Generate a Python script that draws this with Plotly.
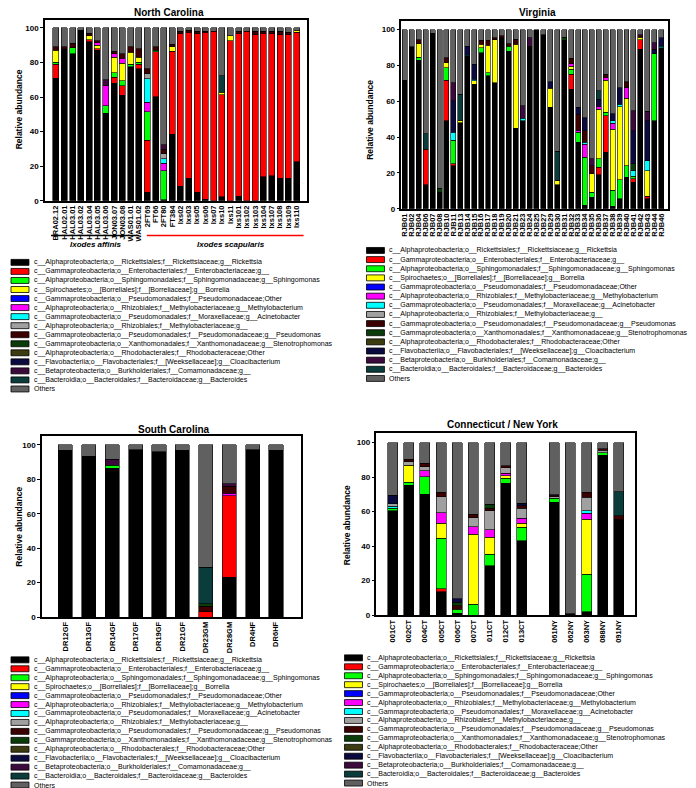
import plotly.graph_objects as go

W, H = 696, 788
FONT = "Liberation Sans, Arial, sans-serif"

LEGEND_LABELS = [
    "c__Alphaproteobacteria;o__Rickettsiales;f__Rickettsiaceae;g__Rickettsia",
    "c__Gammaproteobacteria;o__Enterobacteriales;f__Enterobacteriaceae;g__",
    "c__Alphaproteobacteria;o__Sphingomonadales;f__Sphingomonadaceae;g__Sphingomonas",
    "c__Spirochaetes;o__[Borreliales];f__[Borreliaceae];g__Borrelia",
    "c__Gammaproteobacteria;o__Pseudomonadales;f__Pseudomonadaceae;Other",
    "c__Alphaproteobacteria;o__Rhizobiales;f__Methylobacteriaceae;g__Methylobacterium",
    "c__Gammaproteobacteria;o__Pseudomonadales;f__Moraxellaceae;g__Acinetobacter",
    "c__Alphaproteobacteria;o__Rhizobiales;f__Methylobacteriaceae;g__",
    "c__Gammaproteobacteria;o__Pseudomonadales;f__Pseudomonadaceae;g__Pseudomonas",
    "c__Gammaproteobacteria;o__Xanthomonadales;f__Xanthomonadaceae;g__Stenotrophomonas",
    "c__Alphaproteobacteria;o__Rhodobacterales;f__Rhodobacteraceae;Other",
    "c__Flavobacteriia;o__Flavobacteriales;f__[Weeksellaceae];g__Cloacibacterium",
    "c__Betaproteobacteria;o__Burkholderiales;f__Comamonadaceae;g__",
    "c__Bacteroidia;o__Bacteroidales;f__Bacteroidaceae;g__Bacteroides",
    "Others",
]
COLORS = ["#000000", "#ff0000", "#00ff00", "#ffff00", "#0000ff", "#ff00ff", "#00ffff",
          "#a0a0a0", "#3c0000", "#0a3c0a", "#3c3c10", "#0a0a40", "#3c0a3c", "#0a3c3c", "#606060"]

# ---------------- North Carolina ----------------
NC_SAMPLES = ["BRA02.12", "HAL02.01", "HAL03.01", "HAL03.02", "HAL03.04", "HAL03.05", "HAL03.06",
              "JON03.07", "JON03.08", "WAS01.01", "WAS01.02", "2FT69", "FT66", "2FT80", "FT384",
              "Ixs02", "Ixs03", "Ixs05", "Ixs06", "Ixs07", "Ixs10", "Ixs11", "Ixs101", "Ixs102",
              "Ixs103", "Ixs104", "Ixs107", "Ixs108", "Ixs109", "Ixs110"]
NC_RICK = [71, 87.5, 85, 98.5, 92, 87, 50.5, 68, 61, 77.5, 76.5, 5, 60.3, 0.5, 38.5,
           8.5, 13, 5, 1, 0, 2.3, 0, 2.5, 0, 0, 14, 14.5, 13, 13, 22.5]
NC_ENTERO = [8, 0.8, 0, 0, 1, 1, 0, 3.5, 5.5, 0, 2.5, 30, 26, 0, 48,
             88, 84.5, 91.5, 96.5, 98, 59, 92.5, 94, 98, 96, 83, 82, 83, 83, 75]
NC_SPHINGO = [1, 0, 3.5, 0, 0, 0, 4.5, 2.5, 3, 1.5, 1, 16.5, 0.7, 16.8, 0,
              0, 0, 0, 0, 0, 0, 0, 0, 0, 0, 0, 0, 0, 0, 0]
NC_BORRELIA = [7, 0, 0, 0, 2.5, 2, 0, 9, 10, 7, 3, 0, 0, 0, 2.5,
               0, 0, 0, 0, 0, 1.4, 3, 0, 0, 0, 0, 0, 0, 0, 0.8]
NC_PSEUDO_OTHER = [0] * 30
NC_METHYLOBACTERIUM = [0, 0, 0, 0, 0, 1.5, 11.5, 2, 3, 0, 0, 5.5, 0, 4.5, 0,
                       0, 0, 0, 0, 0, 0, 0, 0, 0, 0, 0, 0, 0, 0, 0]
NC_ACINETO = [0, 0, 0, 0, 0, 0, 0, 0, 0, 0, 0, 13.5, 0, 2.5, 0,
              0, 0, 0, 0, 0, 0, 0, 0, 0, 0, 0, 0, 0, 0, 0]
NC_METHYLO_G = [0, 0, 0, 0, 0, 0, 0, 0, 0, 0, 0, 3, 0, 3, 0,
                0, 0, 0, 0, 0, 0, 0, 0, 0, 0, 0, 0, 0, 0, 0]
NC_PSEUDOMONAS = [2, 0.7, 2.5, 0, 1.5, 1, 0, 1.5, 2.5, 3, 5, 3, 2, 2.5, 1.5,
                  1.5, 1, 1.5, 0.5, 0, 0, 0, 1.5, 0, 2, 1, 1.5, 2, 1.5, 0]
NC_STENO = [0] * 30
NC_RHODO = [0] * 30
NC_CLOACI = [0] * 30
NC_COMAMON = [0, 0, 0, 0, 0, 0, 3.5, 0, 0, 0, 0, 0, 0, 2.5, 0,
              0, 0, 0, 0, 0, 0, 0, 0, 0, 0, 0, 0, 0, 0, 0]
NC_BACTEROIDES = [0, 0, 0, 0, 0, 0, 0, 0, 0, 0, 0, 0, 0, 0, 0,
                  0, 0, 0, 0, 0, 9.5, 0, 0, 0, 0, 0, 0, 0, 0, 0]
NC_OTHERS = [11, 11, 9, 1.5, 3, 7.5, 30, 13.5, 15, 11, 12, 23.5, 11, 67.7, 9.5,
             2, 1.5, 2, 2, 2, 27.8, 4.5, 2, 2, 2, 2, 2, 2, 2.5, 1.7]

# ---------------- Virginia ----------------
VA_SAMPLES = ["RJB01", "RJB02", "RJB04", "RJB06", "RJB07", "RJB08", "RJB10", "RJB11", "RJB13",
              "RJB14", "RJB15", "RJB16", "RJB17", "RJB18", "RJB19", "RJB20", "RJB21", "RJB23",
              "RJB24", "RJB25", "RJB27", "RJB29", "RJB30", "RJB31", "RJB32", "RJB33", "RJB34",
              "RJB35", "RJB36", "RJB37", "RJB38", "RJB39", "RJB40", "RJB41", "RJB42", "RJB43",
              "RJB44", "RJB46"]
VA_RICK = [71.7, 90.4, 82.8, 13.3, 98, 9.3, 49, 24, 48.1, 85.2, 69.4, 87, 74.3, 70.4, 95.4,
           88, 44.8, 49, 90.7, 100, 97.2, 56.5, 13.3, 93.9, 66.7, 37, 1.9, 6.5, 18.9, 31.5,
           1.3, 5.6, 17.6, 14.8, 88.9, 5.6, 49, 89.8]
VA_ENTERO = [0, 0, 0, 20, 0, 0, 22.7, 1, 0, 0, 0, 0, 0, 0, 0,
             0, 0, 0, 0, 0, 0, 0, 0, 0, 8.3, 0, 0, 0, 4.2, 20.4,
             0, 0, 0, 1.9, 5.5, 1.3, 0, 0]
VA_SPHINGO = [0, 0, 1.8, 0, 0, 0, 7, 13.3, 0, 0, 0, 2.8, 1.6, 0, 0,
              2.7, 0, 0, 0, 0, 0, 0, 0, 0, 2.8, 5.6, 26.8, 2.8, 4.7, 1.8,
              8.9, 10.5, 6.5, 1.5, 0, 0, 37.5, 0]
VA_BORRELIA = [0, 0, 7.4, 0, 0, 0, 2.8, 0, 0.9, 0, 1.9, 1.9, 15.4, 24, 0,
               0, 46.9, 0, 0, 0, 0, 10.7, 2.4, 0, 1.8, 0, 0, 10.1, 27.8, 18,
               34.2, 40.8, 37.6, 0, 1.3, 14.4, 0, 0]
VA_PSEUDO_OTHER = [0] * 38
VA_METHYLOBACTERIUM = [0, 0, 0, 0, 0, 0, 0, 0, 0, 0, 0, 0, 0, 0, 0,
                       0, 0, 0, 0, 0, 0, 0, 0, 0, 1.3, 1.3, 7.4, 0, 1.6, 1.5,
                       3.2, 0, 5.9, 0, 0, 0, 0, 0]
VA_ACINETO = [0, 0, 0, 0, 0, 0, 0, 4.3, 0, 0.4, 0.9, 0, 0, 0, 0,
              0, 0, 1.6, 0, 0, 0, 0, 0, 0, 0, 0, 0.9, 0, 0, 0,
              1.4, 1.4, 0, 3.1, 0, 5.6, 0, 0.9]
VA_METHYLO_G = [0] * 38
VA_PSEUDOMONAS = [0, 0, 2.4, 0, 0, 0, 2.8, 0, 0, 0, 0, 2.2, 2.6, 1, 1.1,
                  1.3, 2.8, 0, 0, 0, 0, 0, 0, 0, 3, 8.9, 6.5, 4.5, 0, 1.8,
                  0, 0, 3.3, 0, 1.5, 0, 0, 0]
VA_STENO = [0, 0, 0, 0, 0, 2.2, 0, 0, 0, 0, 0, 0, 0, 0, 0,
            0, 0, 0, 0, 0, 0, 0, 0, 1.8, 0, 0, 0, 0, 0, 0,
            0, 0, 0, 3.7, 0, 0, 0, 0]
VA_RHODO = [0] * 38
VA_CLOACI = [0, 0, 0, 0, 0, 0, 0, 17.6, 0, 5.1, 8.4, 0, 0, 0, 0,
             0, 0, 0, 0, 0, 0, 3.7, 0, 0, 0, 3.7, 7.4, 0, 4, 0,
             4, 9.3, 0, 18.5, 0, 22.1, 2.4, 4.7]
VA_COMAMON = [0, 0, 0, 0, 0, 0, 0, 10.2, 0, 0, 0, 0, 0, 0, 0,
              0, 0, 6.8, 4.7, 0, 0, 0, 0, 0, 0, 0, 0, 4, 0, 0,
              0, 0, 0, 11.1, 0, 5.3, 3.7, 0]
VA_BACTEROIDES = [0, 0, 0, 8.4, 0, 0, 0, 0, 14.9, 0, 0, 0, 0, 0, 0,
                  0, 0, 0, 0, 0, 0, 0, 16.3, 0, 0, 0, 0, 0, 4.5, 0,
                  0, 0, 0, 0, 0, 0, 0, 0]
VA_OTHERS = [28.3, 9.6, 5.6, 58.3, 2, 88.5, 15.7, 29.6, 36.1, 9.3, 19.4, 6.1, 6.1, 4.6, 3.5,
             8, 5.5, 42.6, 4.6, 0, 2.8, 29.1, 68, 4.3, 16.1, 43.5, 49.1, 72.1, 34.3, 25,
             47, 32.4, 29.1, 45.4, 2.8, 45.7, 7.4, 4.6]

# ---------------- South Carolina ----------------
SC_SAMPLES = ["DR12GF", "DR13GF", "DR14GF", "DR17GF", "DR19GF", "DR21GF", "DR23GM", "DR28GM",
              "DR4HF", "DR6HF"]
SC_RICK = [96.9, 93.4, 86.3, 97.3, 96, 96.5, 0, 23.1, 97.3, 96.9]
SC_ENTERO = [0, 0, 0, 0, 0, 0, 3.1, 47.4, 0, 0]
SC_SPHINGO = [0, 0, 1.9, 0, 0, 0, 0, 0, 0, 0]
SC_BORRELIA = [0] * 10
SC_PSEUDO_OTHER = [0] * 10
SC_METHYLOBACTERIUM = [0, 0, 0, 0, 0, 0, 0, 1.4, 0, 0]
SC_ACINETO = [0] * 10
SC_METHYLO_G = [0] * 10
SC_PSEUDOMONAS = [0, 0, 0, 0, 0, 0, 3.3, 4, 0, 0]
SC_STENO = [0, 0, 0, 0, 0, 0, 1.3, 0, 0, 0]
SC_RHODO = [0] * 10
SC_CLOACI = [0] * 10
SC_COMAMON = [0, 0, 3.5, 0, 0, 0.5, 0, 1.6, 0, 0]
SC_BACTEROIDES = [0, 0, 0, 0, 0, 0, 21.3, 0, 0, 0]
SC_OTHERS = [3.1, 6.6, 8.3, 2.7, 4, 3, 71, 22.5, 2.7, 3.1]

# ---------------- Connecticut / New York ----------------
CT_SAMPLES = ["001CT", "002CT", "004CT", "005CT", "006CT", "007CT", "011CT", "012CT", "013CT",
              "061NY", "062NY", "063NY", "088NY", "091NY"]
CT_RICK = [60.5, 75.4, 70, 13.5, 1, 0, 28.5, 76.3, 43.1, 65.4, 0.8, 1.9, 92.7, 55.2]
CT_ENTERO = [0, 0, 0, 1.9, 0, 0, 0, 0, 0, 0, 0, 0, 0, 0.5]
CT_SPHINGO = [1.5, 1.5, 10.2, 29.2, 2.5, 6.2, 6.9, 2.9, 7.7, 2.3, 0, 21.9, 1.5, 0]
CT_BORRELIA = [0, 10, 0, 8.7, 0, 40.7, 9.6, 1.6, 2.5, 0, 0, 31.8, 0, 0]
CT_PSEUDO_OTHER = [0] * 14
CT_METHYLOBACTERIUM = [0, 0, 3.5, 6.1, 0, 4.4, 4.4, 1.3, 2.9, 0, 0, 3.4, 0, 0]
CT_ACINETO = [1, 0, 0, 0, 0, 0, 0, 0, 0, 0, 0, 1.4, 0, 0]
CT_METHYLO_G = [1.5, 1.9, 2.3, 9.3, 0, 5.2, 11, 3.3, 5.7, 0.8, 0, 7.9, 1.3, 0]
CT_PSEUDOMONAS = [0, 1.6, 1.9, 2.5, 2, 2, 1.5, 1.1, 1.4, 0.7, 0, 2.9, 1, 2]
CT_STENO = [0, 0, 0, 0, 2, 0, 2.3, 0, 0, 0, 0, 0, 0, 0]
CT_RHODO = [0] * 14
CT_CLOACI = [5, 0, 0, 0, 2, 0, 0, 0, 1.5, 0, 0, 0, 0, 0]
CT_COMAMON = [0, 0, 0, 0, 0, 0, 0, 0, 0, 0.5, 0, 0, 0, 0]
CT_BACTEROIDES = [0, 0, 0, 0, 0, 0, 0, 0, 0, 0, 0, 0, 0, 13.8]
CT_OTHERS = [30.5, 9.6, 12.1, 28.8, 90.5, 41.5, 35.8, 13.5, 35.2, 30.3, 99.2, 28.8, 3.5, 28.5]

NC_SERIES = [NC_RICK, NC_ENTERO, NC_SPHINGO, NC_BORRELIA, NC_PSEUDO_OTHER, NC_METHYLOBACTERIUM,
             NC_ACINETO, NC_METHYLO_G, NC_PSEUDOMONAS, NC_STENO, NC_RHODO, NC_CLOACI, NC_COMAMON,
             NC_BACTEROIDES, NC_OTHERS]
VA_SERIES = [VA_RICK, VA_ENTERO, VA_SPHINGO, VA_BORRELIA, VA_PSEUDO_OTHER, VA_METHYLOBACTERIUM,
             VA_ACINETO, VA_METHYLO_G, VA_PSEUDOMONAS, VA_STENO, VA_RHODO, VA_CLOACI, VA_COMAMON,
             VA_BACTEROIDES, VA_OTHERS]
SC_SERIES = [SC_RICK, SC_ENTERO, SC_SPHINGO, SC_BORRELIA, SC_PSEUDO_OTHER, SC_METHYLOBACTERIUM,
             SC_ACINETO, SC_METHYLO_G, SC_PSEUDOMONAS, SC_STENO, SC_RHODO, SC_CLOACI, SC_COMAMON,
             SC_BACTEROIDES, SC_OTHERS]
CT_SERIES = [CT_RICK, CT_ENTERO, CT_SPHINGO, CT_BORRELIA, CT_PSEUDO_OTHER, CT_METHYLOBACTERIUM,
             CT_ACINETO, CT_METHYLO_G, CT_PSEUDOMONAS, CT_STENO, CT_RHODO, CT_CLOACI, CT_COMAMON,
             CT_BACTEROIDES, CT_OTHERS]


def positions(samples, gap_after=None):
    pos, off = [], 0
    for i, s in enumerate(samples):
        if gap_after is not None and i > 0 and samples[i - 1].endswith(gap_after) and not s.endswith(gap_after):
            off += 1
        pos.append(i + off)
    return pos


PANELS = [
    dict(name="North Carolina", samples=NC_SAMPLES, series=NC_SERIES, pos=positions(NC_SAMPLES),
         ax="", box=(36, 298, 12, 194), xr=[-1.33, 30.2], ymax=104.6, bw=0.72,
         title_xy=(160, 5), ytitle_xy=(10, 102), leg=(2, 256, 9.1)),
    dict(name="Virginia", samples=VA_SAMPLES, series=VA_SERIES, pos=positions(VA_SAMPLES),
         ax="2", box=(393, 660, 13, 202), xr=[-0.5, 38], ymax=104.8, bw=0.72,
         title_xy=(529, 5), ytitle_xy=(362, 112), leg=(358, 244, 9.2)),
    dict(name="South Carolina", samples=SC_SAMPLES, series=SC_SERIES, pos=positions(SC_SAMPLES),
         ax="3", box=(33, 292, 431, 613), xr=[-1, 10.05], ymax=105, bw=0.6,
         title_xy=(165, 424), ytitle_xy=(10, 522), leg=(2, 656, 9.0)),
    dict(name="Connecticut / New York", samples=CT_SAMPLES, series=CT_SERIES,
         pos=positions(CT_SAMPLES, gap_after="CT"),
         ax="4", box=(368, 627, 428, 611), xr=[-1, 15], ymax=105.4, bw=0.62,
         title_xy=(494, 419), ytitle_xy=(338, 521), leg=(336, 654, 9.0)),
]

fig = go.Figure()
layout = dict(width=W, height=H, margin=dict(l=0, r=0, t=0, b=0), autosize=False,
              paper_bgcolor="white", plot_bgcolor="white", barmode="stack", showlegend=False,
              font=dict(family=FONT, color="black"))
shapes, annotations = [], []


def px(x):
    return x / W


def py(y):
    return 1 - y / H


for p in PANELS:
    xa, ya = "x" + p["ax"], "y" + p["ax"]
    for k, vals in enumerate(p["series"]):
        fig.add_trace(go.Bar(
            x=p["pos"], y=[v if v else None for v in vals], width=p["bw"],
            marker=dict(color=COLORS[k], line=dict(color="black", width=0.6)),
            name=LEGEND_LABELS[k], xaxis=xa, yaxis=ya, showlegend=False))
    x0, x1, y0, y1 = p["box"]
    layout["xaxis" + p["ax"]] = dict(
        domain=[px(x0), px(x1)], range=p["xr"], anchor=ya, tickmode="array",
        tickvals=p["pos"], ticktext=p["samples"], tickangle=-90,
        tickfont=dict(size=7.5, family=FONT, weight="bold"), showline=True, mirror=True,
        linecolor="black", linewidth=1.5, ticks="", showgrid=False, zeroline=False)
    layout["yaxis" + p["ax"]] = dict(
        domain=[py(y1), py(y0)], range=[0, p["ymax"]], anchor=xa, tickmode="array",
        tickvals=[0, 20, 40, 60, 80, 100], ticks="outside", ticklen=3, tickwidth=1,
        tickcolor="black", tickfont=dict(size=8, family=FONT, weight="bold"),
        showline=True, mirror=True, linecolor="black", linewidth=1.5, showgrid=False,
        zeroline=False)
    tx, ty = p["title_xy"]
    annotations.append(dict(x=px(tx), y=py(ty), xref="paper", yref="paper", text=p["name"],
                            showarrow=False, xanchor="center", yanchor="middle",
                            font=dict(size=10, family=FONT, weight="bold")))
    yx, yy = p["ytitle_xy"]
    annotations.append(dict(x=px(yx), y=py(yy), xref="paper", yref="paper",
                            text="Relative abundance", textangle=-90, showarrow=False,
                            xanchor="center", yanchor="middle",
                            font=dict(size=8.5, family=FONT, weight="bold")))
    lx, ly, dy = p["leg"]
    for k, lab in enumerate(LEGEND_LABELS):
        yc = ly + k * dy
        shapes.append(dict(type="rect", xref="paper", yref="paper", x0=px(lx), x1=px(lx + 18),
                           y0=py(yc + 3), y1=py(yc - 3), fillcolor=COLORS[k],
                           line=dict(color="black", width=0.8)))
        annotations.append(dict(x=px(lx + 21), y=py(yc), xref="paper", yref="paper", text=lab,
                                showarrow=False, xanchor="left", yanchor="middle",
                                font=dict(size=7, family=FONT)))

# species group brackets (North Carolina)
shapes.append(dict(type="line", xref="paper", yref="paper", x0=px(42), x1=px(130),
                   y0=py(229), y1=py(229), line=dict(color="black", width=1.5)))
shapes.append(dict(type="line", xref="paper", yref="paper", x0=px(138), x1=px(295),
                   y0=py(229), y1=py(229), line=dict(color="#ff0000", width=1.5)))
annotations.append(dict(x=px(87), y=py(238), xref="paper", yref="paper",
                        text="<i>Ixodes affinis</i>", showarrow=False, xanchor="center",
                        yanchor="middle", font=dict(size=8, family=FONT, weight="bold")))
annotations.append(dict(x=px(222), y=py(238), xref="paper", yref="paper",
                        text="<i>Ixodes scapularis</i>", showarrow=False, xanchor="center",
                        yanchor="middle", font=dict(size=8, family=FONT, weight="bold")))

layout["shapes"] = shapes
layout["annotations"] = annotations
fig.update_layout(**layout)
fig.write_html("out.html")
